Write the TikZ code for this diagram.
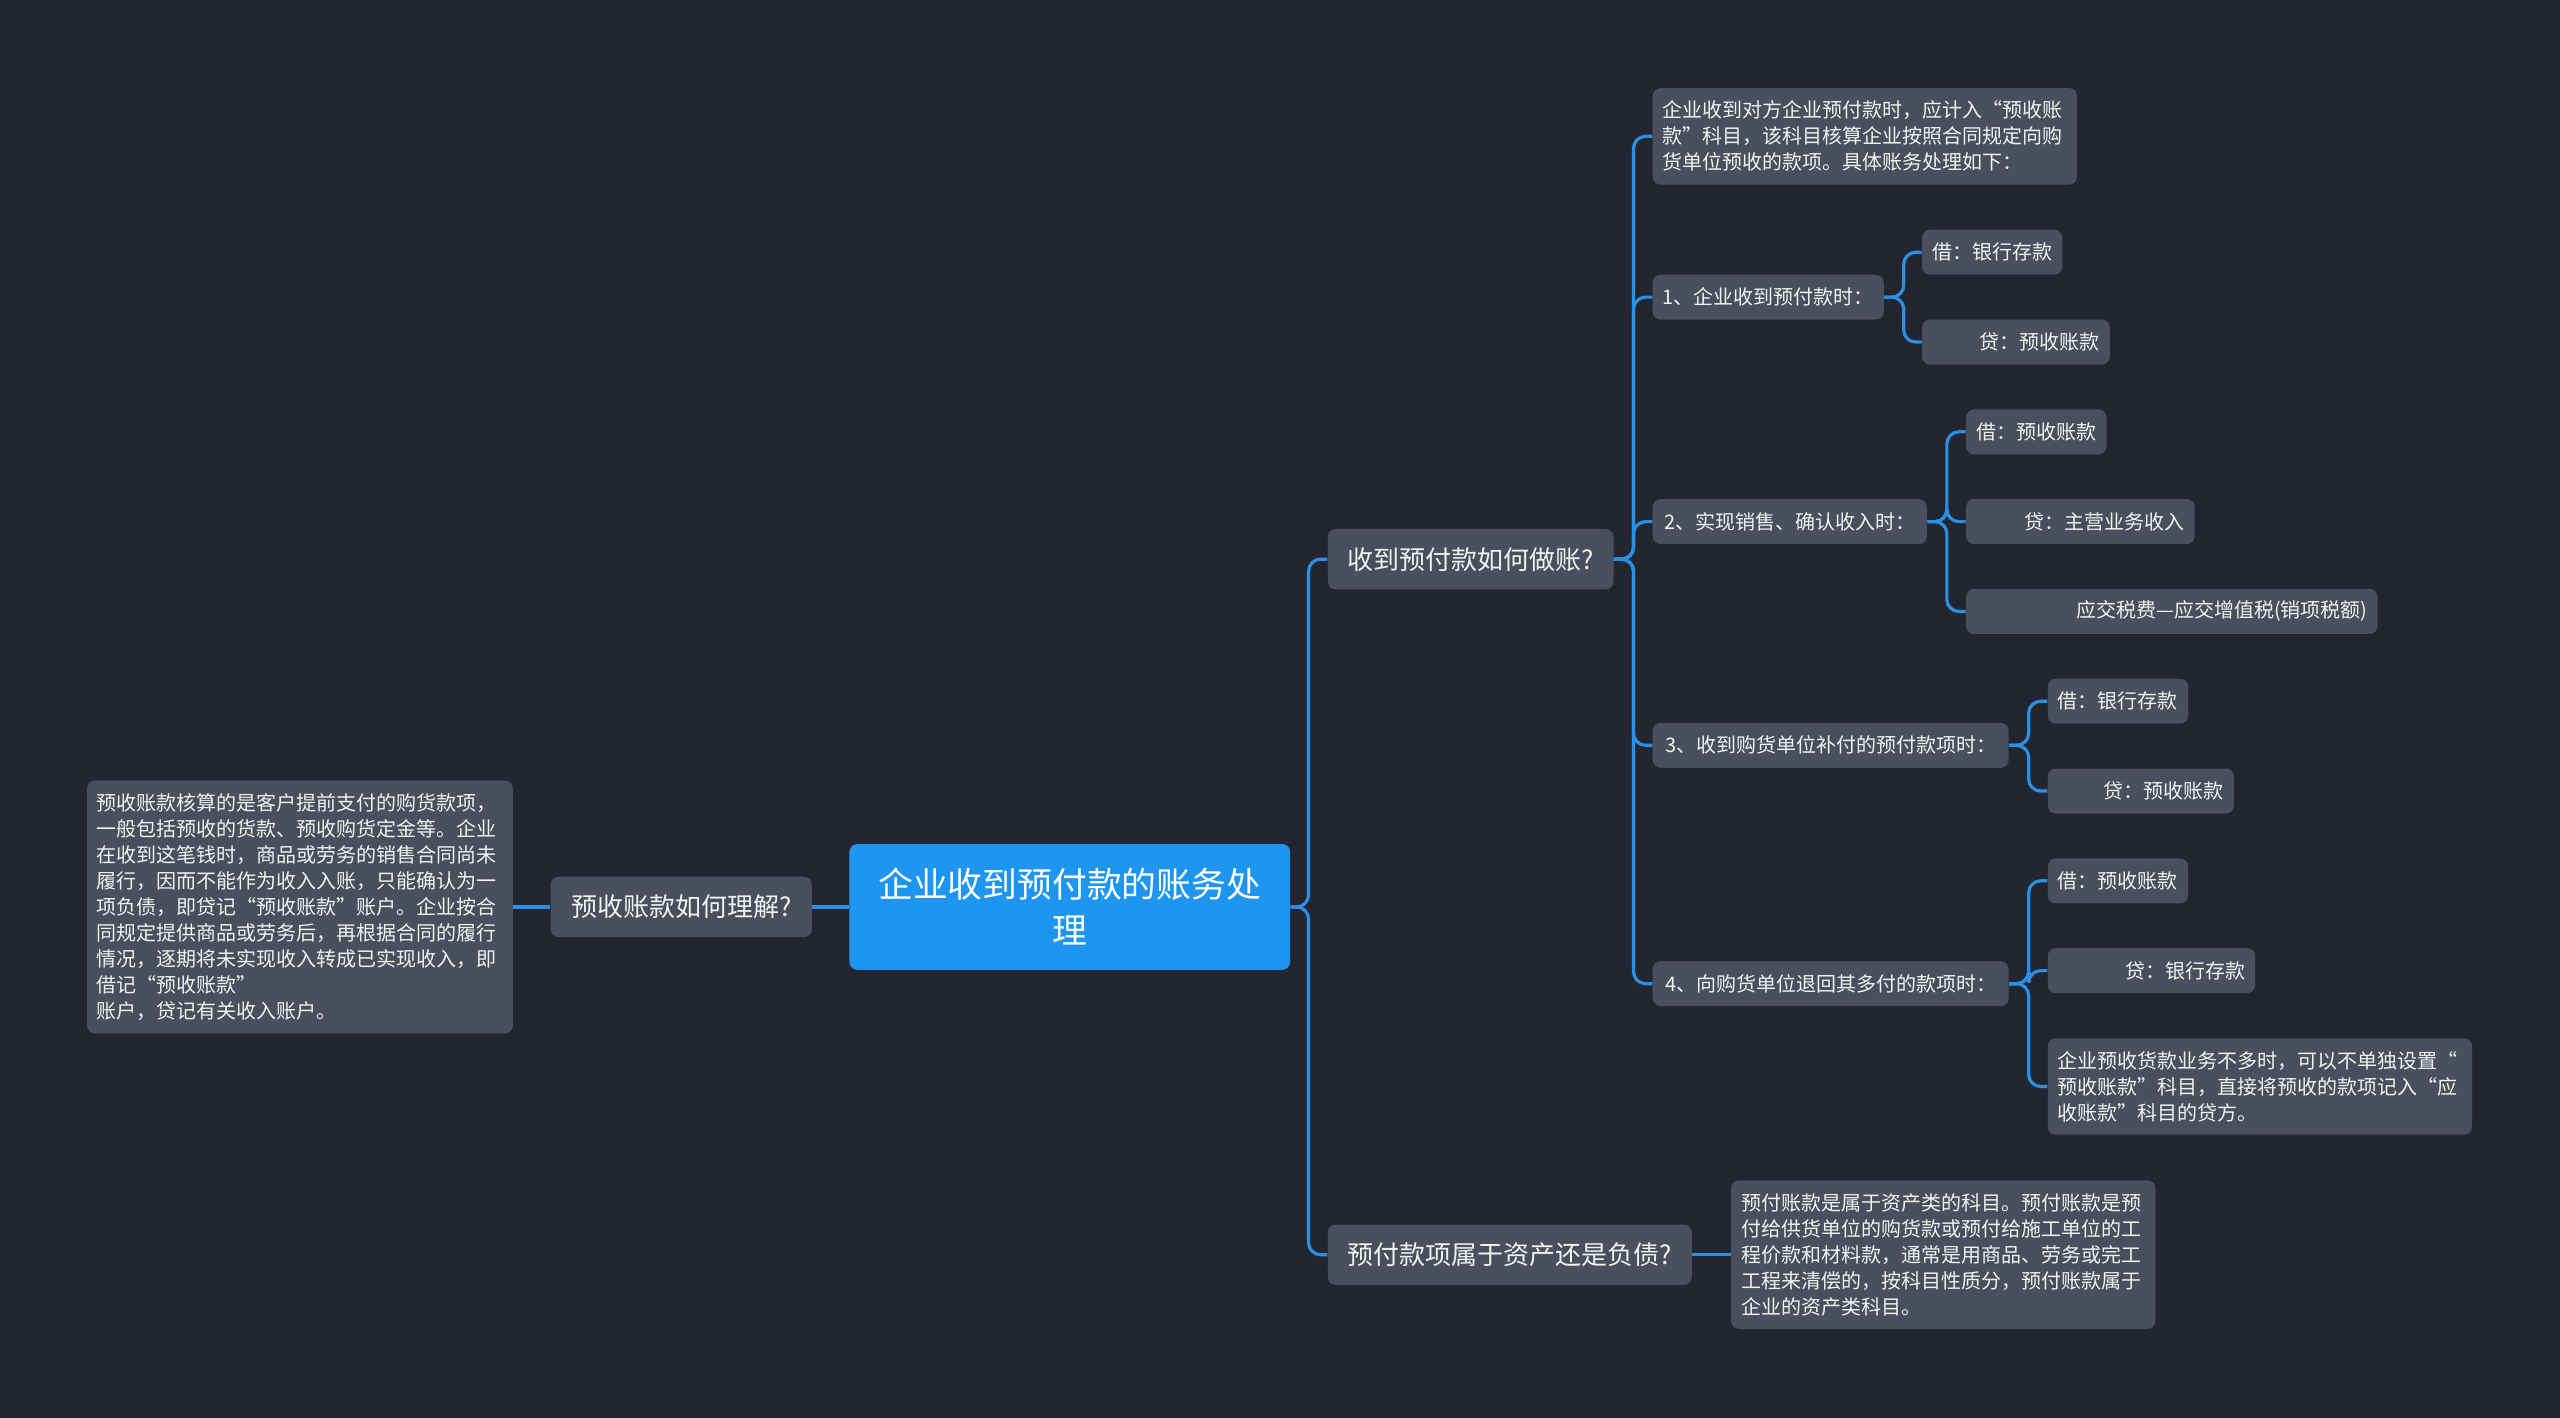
\documentclass[tikz,border=0pt]{standalone}
\usepackage{fontspec}
\setmainfont{Noto Sans CJK SC}
\definecolor{bg}{HTML}{232631}
\definecolor{nodebg}{HTML}{4A4F5D}
\definecolor{rootbg}{HTML}{1E96F0}
\definecolor{linec}{HTML}{2B8FE2}
\definecolor{txt}{HTML}{F2F2F2}
\newcommand\linkto[3]{\draw[conn] (#1.east) -- ++(#3,0) |- (#2.west);}
\begin{document}
\begin{tikzpicture}[x=0.8163pt, y=-0.8163pt,
  conn/.style={draw=linec, line width=1.6pt, rounded corners=6pt},
  box/.style={rectangle, rounded corners=4pt, fill=nodebg, text=txt, anchor=west, inner ysep=2pt},
  leaf/.style={box, font=\fontsize{10}{13}\selectfont, inner xsep=5pt, align=left},
  tag/.style={box, font=\fontsize{10}{13}\selectfont, minimum height=22.5pt, inner xsep=5pt},
  rtag/.style={tag, align=right},
  topic/.style={box, font=\fontsize{13}{16}\selectfont, minimum height=30.2pt, inner xsep=5pt},
  rootbox/.style={box, fill=rootbg, text=white, font=\fontsize{17.4}{23}\selectfont, align=center, text width=220.4pt, inner xsep=0pt, minimum height=62.9pt}
]
\useasboundingbox (0,0) rectangle (1568,868);
\fill[bg] (-4,-4) rectangle (1572,872);

% nodes
\node[rootbox] (root) at (520,555.5) {企业收到预付款的账务处\\理};
\node[topic, minimum width=130.6pt] (lq) at (337,555.5) {预收账款如何理解?};
\node[leaf, text width=203pt, minimum height=126.5pt] (ld) at (53,555.5) {预收账款核算的是客户提前支付的购货款项，\\一般包括预收的货款、预收购货定金等。企业\\在收到这笔钱时，商品或劳务的销售合同尚未\\履行，因而不能作为收入入账，只能确认为一\\项负债，即贷记“预收账款”账户。企业按合\\同规定提供商品或劳务后，再根据合同的履行\\情况，逐期将未实现收入转成已实现收入，即\\借记“预收账款”\\账户，贷记有关收入账户。};

\node[topic, minimum width=142.9pt] (r1) at (813,342.5) {收到预付款如何做账?};
\node[topic, minimum width=182pt] (r2) at (813,768.5) {预付款项属于资产还是负债?};
\node[leaf, text width=202.2pt, minimum height=74.3pt] (r2d) at (1060,768.5) {预付账款是属于资产类的科目。预付账款是预\\付给供货单位的购货款或预付给施工单位的工\\程价款和材料款，通常是用商品、劳务或完工\\工程来清偿的，按科目性质分，预付账款属于\\企业的资产类科目。};

\node[leaf, text width=202.2pt, minimum height=48.2pt] (a0) at (1012,83.5) {企业收到对方企业预付款时，应计入“预收账\\款”科目，该科目核算企业按照合同规定向购\\货单位预收的款项。具体账务处理如下：};

\node[tag, minimum width=115.1pt] (a1) at (1012,182) {1、企业收到预付款时：};
\node[tag, minimum width=70.2pt] (a1a) at (1177,154.5) {借：银行存款};
\node[rtag, text width=83.9pt] (a1b) at (1177,209.5) {贷：预收账款};

\node[tag, minimum width=137.1pt] (a2) at (1012,319.5) {2、实现销售、确认收入时：};
\node[tag, minimum width=70.2pt] (a2a) at (1204,264.5) {借：预收账款};
\node[rtag, text width=104.3pt] (a2b) at (1204,319.5) {贷：主营业务收入};
\node[rtag, text width=195.7pt] (a2c) at (1204,374.5) {应交税费—应交增值税(销项税额)};

\node[tag, minimum width=178pt] (a3) at (1012,456.5) {3、收到购货单位补付的预付款项时：};
\node[tag, minimum width=70.2pt] (a3a) at (1254,429.5) {借：银行存款};
\node[rtag, text width=83.1pt] (a3b) at (1254,484.5) {贷：预收账款};

\node[tag, minimum width=178pt] (a4) at (1012,602.5) {4、向购货单位退回其多付的款项时：};
\node[tag, minimum width=70.2pt] (a4a) at (1254,539.5) {借：预收账款};
\node[rtag, text width=93.7pt] (a4b) at (1254,594.5) {贷：银行存款};
\node[leaf, text width=202.2pt, minimum height=48.2pt] (a4c) at (1254,665.5) {企业预收货款业务不多时，可以不单独设置“\\预收账款”科目，直接将预收的款项记入“应\\收账款”科目的贷方。};

% connectors
\draw[conn] (root.west) -- (lq.east);
\draw[conn] (lq.west) -- (ld.east);
\linkto{root}{r1}{11}
\linkto{root}{r2}{11}
\draw[conn] (r2.east) -- (r2d.west);
\linkto{r1}{a0}{12}
\linkto{r1}{a1}{12}
\linkto{r1}{a2}{12}
\linkto{r1}{a3}{12}
\linkto{r1}{a4}{12}
\linkto{a1}{a1a}{12}
\linkto{a1}{a1b}{12}
\linkto{a2}{a2a}{12}
\linkto{a2}{a2b}{12}
\linkto{a2}{a2c}{12}
\linkto{a3}{a3a}{12}
\linkto{a3}{a3b}{12}
\linkto{a4}{a4a}{12}
\linkto{a4}{a4b}{12}
\linkto{a4}{a4c}{12}
\end{tikzpicture}
\end{document}
